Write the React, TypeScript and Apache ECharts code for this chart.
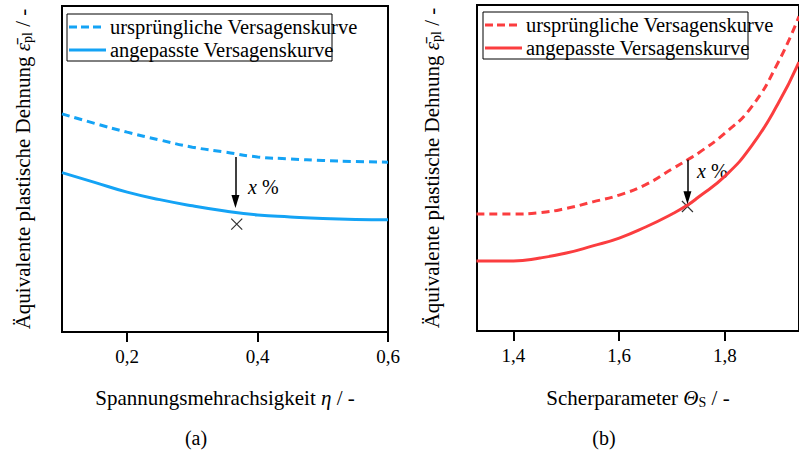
import React, { useEffect, useRef } from "react";
import * as echarts from "echarts";

// ---- data: (a) stress triaxiality ----
const etaX = [0.1, 0.15, 0.2, 0.25, 0.3, 0.35, 0.4, 0.45, 0.5, 0.55, 0.6];
const etaOriginal = [66.9, 64.0, 61.3, 58.9, 56.7, 55.2, 53.7, 53.1, 52.6, 52.3, 52.1];
const etaAdapted = [48.9, 45.9, 42.9, 40.6, 38.7, 37.1, 35.9, 35.3, 34.8, 34.5, 34.4];
const etaTicks = [0.2, 0.4, 0.6];
const etaMarker = [0.368, 33.1];
const etaArrow = [0.366, 53.7, 40.0];

// ---- data: (b) shear parameter ----
const thetaX = [1.33, 1.4, 1.45, 1.5, 1.55, 1.6, 1.65, 1.7, 1.73, 1.75, 1.8, 1.85, 1.9, 1.94];
const thetaOriginal = [35.9, 35.9, 36.3, 37.6, 39.6, 41.7, 44.9, 49.7, 52.6, 54.6, 60.7, 68.7, 82.2, 96.5];
const thetaAdapted = [21.5, 21.5, 22.4, 23.9, 26.1, 28.5, 31.9, 35.9, 38.7, 41.1, 47.5, 56.7, 69.6, 82.5];
const thetaTicks = [1.4, 1.6, 1.8];
const thetaMarker = [1.729, 38.2];
const thetaArrow = [1.729, 52.5, 40.9];

const tickLabels = (v: number) => v.toFixed(1).replace(".", ",");

const FONT = "Liberation Serif";
const BLUE = "#14a3f5";
const RED = "#fb3d3f";
const NAME_ORIG = "ursprüngliche Versagenskurve";
const NAME_ADAPT = "angepasste Versagenskurve";

const crossPath = "path://M0,0L10,10M10,0L0,10";

function legendGraphic(x: number, y: number, w: number, color: string, dash: number[]) {
  return {
    type: "group",
    children: [
      { type: "rect", shape: { x, y, width: w, height: 47 }, style: { fill: "#fff", stroke: "#000", lineWidth: 1 } },
      { type: "line", shape: { x1: x + 2, y1: y + 13, x2: x + 35, y2: y + 13 }, style: { stroke: color, lineWidth: 3, lineDash: dash } },
      { type: "line", shape: { x1: x + 2, y1: y + 36, x2: x + 39, y2: y + 36 }, style: { stroke: color, lineWidth: 3 } },
      { type: "text", x: x + 43, y: y + 13, style: { text: NAME_ORIG, fontFamily: FONT, fontSize: 20.5, fill: "#000", verticalAlign: "middle" } },
      { type: "text", x: x + 43, y: y + 36, style: { text: NAME_ADAPT, fontFamily: FONT, fontSize: 20.5, fill: "#000", verticalAlign: "middle" } },
    ],
  };
}

function pctText(x: number, y: number) {
  return {
    type: "text",
    x,
    y,
    style: {
      text: "{i|x} %",
      fontFamily: FONT,
      fontSize: 20,
      fill: "#000",
      verticalAlign: "middle",
      rich: { i: { fontStyle: "italic", fontFamily: FONT, fontSize: 20 } },
    },
  };
}

const nameStyle = {
  fontFamily: FONT,
  fontSize: 21,
  color: "#000",
  rich: {
    i: { fontFamily: FONT, fontSize: 21, fontStyle: "italic", color: "#000" },
    sub: { fontFamily: FONT, fontSize: 14, color: "#000", verticalAlign: "bottom", padding: [9, 0, 0, 0] },
  },
};

export default function App() {
  const ref = useRef<HTMLDivElement>(null);
  useEffect(() => {
    if (!ref.current) return;
    const chart = echarts.init(ref.current, null, { renderer: "svg" });
    const xAxisCommon = (idx: number, min: number, max: number, ticks: number[], name: string) => ({
      type: "value",
      gridIndex: idx,
      min,
      max,
      name,
      nameLocation: "middle",
      nameGap: 55,
      nameTextStyle: nameStyle,
      axisLine: { show: false },
      axisTick: { show: true, inside: false, length: 10, customValues: ticks, lineStyle: { color: "#000", width: 2 } },
      axisLabel: { customValues: ticks, formatter: tickLabels, margin: 15, fontFamily: FONT, fontSize: 19, color: "#000" },
      splitLine: { show: false },
    });
    const yAxisCommon = (idx: number, gap: number) => ({
      type: "value",
      gridIndex: idx,
      min: 0,
      max: 100,
      name: "Äquivalente plastische Dehnung {i|ε\u0304}{sub|pl} / -",
      nameLocation: "middle",
      nameGap: gap,
      nameTextStyle: nameStyle,
      axisLine: { show: false },
      axisTick: { show: false },
      axisLabel: { show: false },
      splitLine: { show: false },
    });
    const arrowLine = (a: number[]) => ({
      silent: true,
      symbol: ["none", "triangle"],
      symbolSize: [8, 13],
      label: { show: false },
      lineStyle: { color: "#000", width: 1.5, type: "solid" },
      emphasis: { disabled: true },
      data: [[{ coord: [a[0], a[1]] }, { coord: [a[0], a[2]] }]],
    });
    chart.setOption({
      animation: false,
      backgroundColor: "#fff",
      grid: [
        { left: 62, top: 6, width: 326, height: 326, show: true, borderColor: "#000", borderWidth: 2 },
        { left: 477, top: 5, width: 326, height: 326, show: true, borderColor: "#000", borderWidth: 2 },
      ],
      xAxis: [
        xAxisCommon(0, 0.1, 0.6, etaTicks, "Spannungsmehrachsigkeit {i|η} / -"),
        xAxisCommon(1, 1.331, 1.94, thetaTicks, "Scherparameter {i|Θ}{sub|S} / -"),
      ],
      yAxis: [yAxisCommon(0, 28), yAxisCommon(1, 34)],
      series: [
        {
          type: "line", name: NAME_ORIG, xAxisIndex: 0, yAxisIndex: 0, smooth: true, showSymbol: false,
          data: etaX.map((x, i) => [x, etaOriginal[i]]),
          lineStyle: { color: BLUE, width: 3, type: [8, 5] },
        },
        {
          type: "line", name: NAME_ADAPT, xAxisIndex: 0, yAxisIndex: 0, smooth: true, showSymbol: false,
          data: etaX.map((x, i) => [x, etaAdapted[i]]),
          lineStyle: { color: BLUE, width: 3 },
        },
        {
          type: "scatter", xAxisIndex: 0, yAxisIndex: 0, symbol: crossPath, symbolSize: 11,
          itemStyle: { color: "transparent", borderColor: "#000", borderWidth: 1.2 },
          data: [etaMarker],
          markLine: arrowLine(etaArrow),
        },
        {
          type: "line", name: NAME_ORIG, xAxisIndex: 1, yAxisIndex: 1, smooth: true, showSymbol: false,
          data: thetaX.map((x, i) => [x, thetaOriginal[i]]),
          lineStyle: { color: RED, width: 3, type: [8, 5] },
        },
        {
          type: "line", name: NAME_ADAPT, xAxisIndex: 1, yAxisIndex: 1, smooth: true, showSymbol: false,
          data: thetaX.map((x, i) => [x, thetaAdapted[i]]),
          lineStyle: { color: RED, width: 3 },
        },
        {
          type: "scatter", xAxisIndex: 1, yAxisIndex: 1, symbol: crossPath, symbolSize: 11,
          itemStyle: { color: "transparent", borderColor: "#000", borderWidth: 1.2 },
          data: [thetaMarker],
          markLine: arrowLine(thetaArrow),
        },
      ],
      graphic: [
        legendGraphic(67, 14, 265, BLUE, [8, 4]),
        legendGraphic(483, 12, 265, RED, [8, 4]),
        pctText(248, 187),
        pctText(697, 171),
        { type: "text", x: 196, y: 438, style: { text: "(a)", fontFamily: FONT, fontSize: 20, fill: "#000", align: "center", verticalAlign: "middle" } },
        { type: "text", x: 604, y: 438, style: { text: "(b)", fontFamily: FONT, fontSize: 20, fill: "#000", align: "center", verticalAlign: "middle" } },
      ],
    });
    return () => chart.dispose();
  }, []);
  return <div ref={ref} style={{ position: "absolute", left: 0, top: 0, width: 799, height: 456 }} />;
}
